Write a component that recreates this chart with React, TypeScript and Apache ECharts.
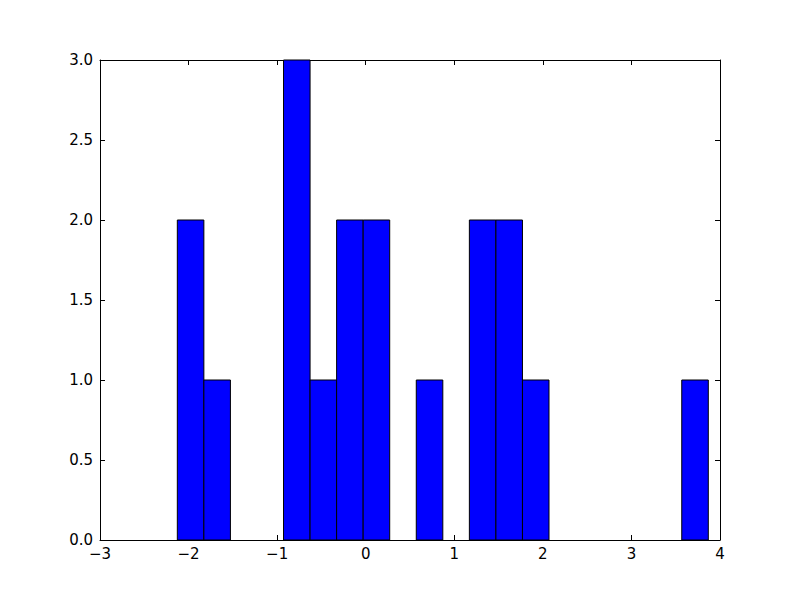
import React, { useEffect, useRef } from "react";
import * as echarts from "echarts";

// Histogram: 20 bins starting at binStart with width binWidth
const binStart = -2.127;
const binWidth = 0.29975;
const counts = [2, 1, 0, 0, 3, 1, 2, 2, 0, 1, 0, 2, 2, 1, 0, 0, 0, 0, 0, 1];
const xTicks = [-3, -2, -1, 0, 1, 2, 3, 4];
const yTicks = [0, 0.5, 1, 1.5, 2, 2.5, 3];

export default function App() {
  const ref = useRef<HTMLDivElement>(null);
  useEffect(() => {
    if (!ref.current) return;
    const chart = echarts.init(ref.current, undefined, { renderer: "svg" });
    const data = counts.map((c, i) => [binStart + i * binWidth, binStart + (i + 1) * binWidth, c]);
    const font = "DejaVu Sans";
    const axisLine = { show: true, onZero: false, lineStyle: { color: "#000", width: 1 } };
    const tick = { show: true, inside: true, length: 5, lineStyle: { color: "#000", width: 1 } };
    chart.setOption({
      animation: false,
      backgroundColor: "#fff",
      grid: { left: 100, right: 80, top: 60, bottom: 60, containLabel: false },
      xAxis: [
        {
          type: "value",
          position: "bottom",
          min: xTicks[0],
          max: xTicks[xTicks.length - 1],
          interval: 1,
          axisLine,
          axisTick: tick,
          splitLine: { show: false },
          axisLabel: {
            color: "#000",
            fontFamily: font,
            fontSize: 15,
            margin: 6,
            formatter: (v: number) => String(v).replace("-", "\u2212"),
          },
        },
        {
          type: "value",
          position: "top",
          min: xTicks[0],
          max: xTicks[xTicks.length - 1],
          interval: 1,
          axisLine,
          axisTick: tick,
          splitLine: { show: false },
          axisLabel: { show: false },
        },
      ],
      yAxis: [
        {
          type: "value",
          position: "left",
          min: yTicks[0],
          max: yTicks[yTicks.length - 1],
          interval: 0.5,
          axisLine,
          axisTick: tick,
          splitLine: { show: false },
          axisLabel: {
            color: "#000",
            fontFamily: font,
            fontSize: 15,
            margin: 7,
            formatter: (v: number) => v.toFixed(1),
          },
        },
        {
          type: "value",
          position: "right",
          min: yTicks[0],
          max: yTicks[yTicks.length - 1],
          interval: 0.5,
          axisLine,
          axisTick: tick,
          splitLine: { show: false },
          axisLabel: { show: false },
        },
      ],
      series: [
        {
          type: "custom",
          xAxisIndex: 0,
          yAxisIndex: 0,
          data,
          encode: { x: [0, 1], y: 2 },
          renderItem: (params: any, api: any) => {
            const c = api.value(2);
            if (!c) return null;
            const p0 = api.coord([api.value(0), 0]);
            const p1 = api.coord([api.value(1), c]);
            return {
              type: "rect",
              shape: { x: p0[0], y: p1[1], width: p1[0] - p0[0], height: p0[1] - p1[1] },
              style: { fill: "#0000ff", stroke: "#000", lineWidth: 1 },
            };
          },
        },
      ],
    });
    return () => chart.dispose();
  }, []);
  return (
    <div
      ref={ref}
      style={{ position: "fixed", left: 0, top: 0, width: 800, height: 600, background: "#fff" }}
    />
  );
}
